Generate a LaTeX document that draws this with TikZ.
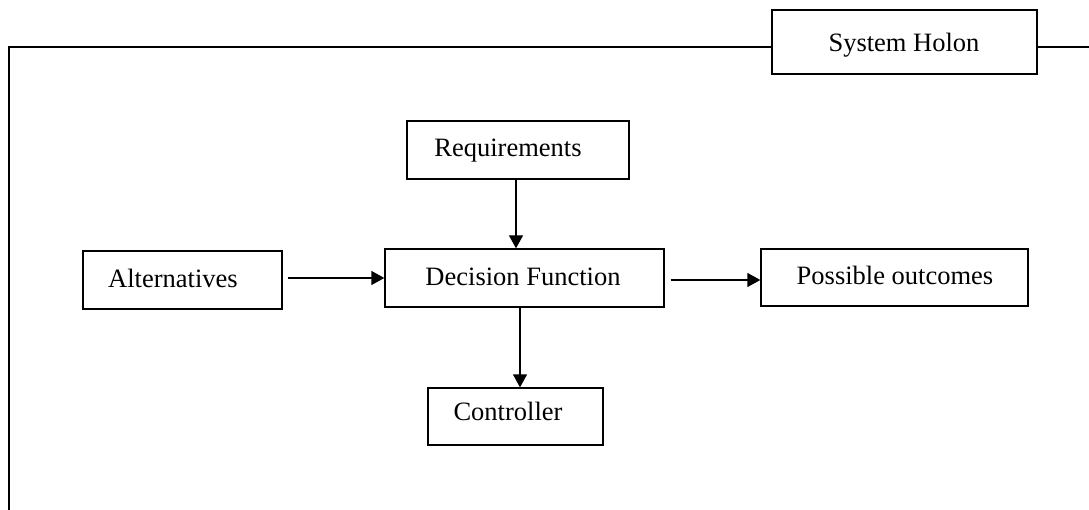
\documentclass[tikz,border=0pt]{standalone}
\usepackage{fontspec}
\setmainfont{Liberation Serif}
\usetikzlibrary{arrows.meta}
\tikzset{
  box/.style={draw=black, line width=1.3pt, fill=white, rectangle, inner sep=0pt},
  lbl/.style={font=\fontsize{26.5}{30}\selectfont, inner sep=0pt, anchor=base},
  flow/.style={line width=1.3pt, -{Triangle[length=13pt,width=14pt]}},
  frame/.style={line width=2pt}
}
\begin{document}
\begin{tikzpicture}[x=1pt,y=-1pt]
\useasboundingbox (0,0) rectangle (1089,510);
% outer holon frame
\draw[frame] (1089,47.5) -- (8.5,47.5) -- (8.5,512);
% boxes: centre, width, height
\node[box, minimum width=265pt, minimum height=64pt] (holon) at (904.5,42) {};
\node[box, minimum width=222pt, minimum height=58pt] (req) at (518,150) {};
\node[box, minimum width=279pt, minimum height=58pt] (dec) at (524.5,278) {};
\node[box, minimum width=199pt, minimum height=58pt] (alt) at (182.5,280) {};
\node[box, minimum width=267pt, minimum height=57pt] (out) at (894.5,277.5) {};
\node[box, minimum width=175pt, minimum height=57pt] (ctl) at (515.5,416.5) {};
% labels
\node[lbl] (tholon) at (904,52) {System Holon};
\node[lbl] (treq) at (508,157) {Requirements};
\node[lbl] (tdec) at (523,286) {Decision Function};
\node[lbl] (talt) at (173,288) {Alternatives};
\node[lbl] (tout) at (895,285) {Possible outcomes};
\node[lbl] (tctl) at (508,420) {Controller};
% connectors
\draw[flow] (req.south -| 516,0) -- (dec.north -| 516,0);
\draw[flow] ([xshift=5pt]alt.east |- 0,278) -- (dec.west |- 0,278);
\draw[flow] ([xshift=6pt]dec.east |- 0,280) -- (out.west |- 0,280);
\draw[flow] (dec.south -| 520,0) -- (ctl.north -| 520,0);
\end{tikzpicture}
\end{document}
